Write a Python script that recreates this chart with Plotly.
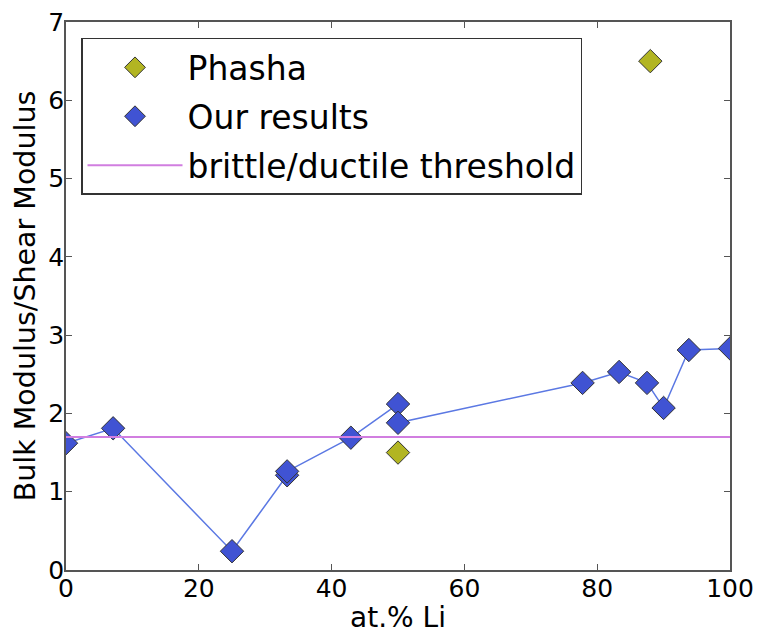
import plotly.graph_objects as go

# --- data ---
phasha_x = [50, 88]
phasha_y = [1.50, 6.50]

our_x = [0, 7.1, 25, 33.3, 33.3, 42.9, 50, 50, 77.8, 83.3, 87.5, 90, 93.8, 100]
our_y = [1.62, 1.81, 0.24, 1.21, 1.26, 1.69, 2.12, 1.88, 2.39, 2.53, 2.39, 2.07, 2.81, 2.83]

threshold_x = [0, 100]
threshold_y = [1.70, 1.70]

x_ticks = [0, 20, 40, 60, 80, 100]
y_ticks = [0, 1, 2, 3, 4, 5, 6, 7]

FONT = "DejaVu Sans"
BLUE = "#4053d3"
OLIVE = "#b2b522"
EDGE = "#333333"

fig = go.Figure()
# connecting line for our results (no legend entry)
fig.add_trace(go.Scatter(
    x=our_x, y=our_y, mode="lines", showlegend=False, hoverinfo="skip",
    line=dict(color="#5b78e3", width=1.5),
))
fig.add_trace(go.Scatter(
    x=phasha_x, y=phasha_y, mode="markers", name="Phasha",
    legendgroup="a",
    marker=dict(symbol="diamond", size=18, color=OLIVE, line=dict(color=EDGE, width=1)),
))
fig.add_trace(go.Scatter(
    x=our_x, y=our_y, mode="markers", name="Our results",
    legendgroup="b",
    marker=dict(symbol="diamond", size=18, color=BLUE, line=dict(color=EDGE, width=1)),
))
fig.add_trace(go.Scatter(
    x=threshold_x, y=threshold_y, mode="lines", name="brittle/ductile threshold",
    legendgroup="c",
    line=dict(color="#d17ee0", width=2),
))

axis_common = dict(
    showline=True, mirror="ticks", linecolor="#555555", linewidth=1.5,
    ticks="inside", ticklen=6, tickcolor="#555555", tickwidth=1,
    showgrid=False, zeroline=False, automargin=False,
    ticklabelstandoff=-5,
    tickfont=dict(family=FONT, size=25, color="black"),
)

fig.update_layout(
    width=761, height=637,
    margin=dict(l=66, r=31, t=22, b=67),
    paper_bgcolor="white", plot_bgcolor="white",
    font=dict(family=FONT, color="black"),
    xaxis=dict(range=[0, 100], tickvals=x_ticks,
               title=dict(text="at.% Li", font=dict(family=FONT, size=28), standoff=6),
               **axis_common),
    yaxis=dict(range=[0, 7], tickvals=y_ticks,
               title=dict(text="Bulk Modulus/Shear Modulus", font=dict(family=FONT, size=28.5), standoff=4),
               **axis_common),
    legend=dict(
        x=0.0226, y=0.971, xanchor="left", yanchor="top",
        bgcolor="white", bordercolor="#333333", borderwidth=1.5,
        font=dict(family=FONT, size=33, color="black"),
        itemwidth=95, tracegroupgap=3,
    ),
    showlegend=True,
)

fig.write_html("out.html")
